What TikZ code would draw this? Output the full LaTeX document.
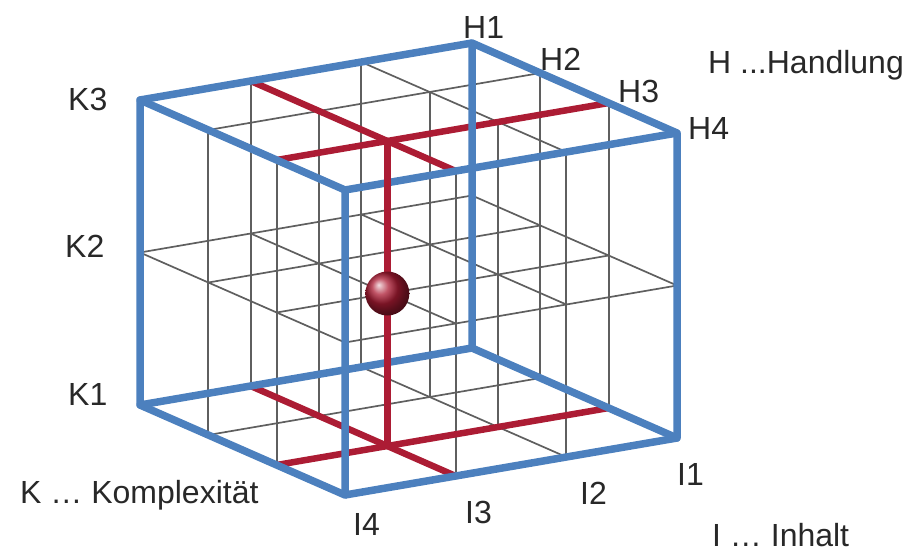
\documentclass[tikz,border=0pt]{standalone}
\usepackage{fontspec}
\setmainfont{Liberation Sans}
\definecolor{edgeblue}{RGB}{76,128,190}
\definecolor{axisred}{RGB}{172,28,52}
\definecolor{gridgray}{RGB}{95,95,95}
\definecolor{labelgray}{RGB}{40,40,40}
\begin{document}
\begin{tikzpicture}[x=1pt,y=-1pt,
  gridline/.style={draw=gridgray,line width=1.7pt},
  redline/.style={draw=axisred,line width=6.5pt,line cap=round},
  edgeline/.style={draw=edgeblue,line width=7.5pt,line join=round,line cap=round},
  lbl/.style={anchor=base west,inner sep=0pt,text=labelgray,font=\fontsize{32}{38}\selectfont}]
\useasboundingbox (0,0) rectangle (920,555);
% lattice points p<i><j><k>: i width (0..3), j depth (0..3), k height (0..2)
\foreach \i in {0,...,3}{
  \foreach \j in {0,...,3}{
    \foreach \k in {0,1,2}{
      \coordinate (p\i\j\k) at ({140+\i*332/3+\j*205/3},{405-\i*57/3+\j*90/3-\k*152.5});
    }}}
% gray grid
\foreach \i in {0,...,3}{
  \foreach \j in {0,...,3}{
    \draw[gridline] (p\i\j0) -- (p\i\j2);
  }}
\foreach \j in {0,...,3}{
  \foreach \k in {0,1,2}{
    \draw[gridline] (p0\j\k) -- (p3\j\k);
  }}
\foreach \i in {0,...,3}{
  \foreach \k in {0,1,2}{
    \draw[gridline] (p\i0\k) -- (p\i3\k);
  }}
% red horizontal lines
\draw[redline] (p102) -- (p132);
\draw[redline] (p022) -- (p322);
\draw[redline] (p100) -- (p130);
\draw[redline] (p020) -- (p320);
% blue cube edges
\draw[edgeline] (p000) -- (p300) -- (p302) -- (p002) -- cycle;
\draw[edgeline] (p030) -- (p330) -- (p332) -- (p032) -- cycle;
\draw[edgeline] (p000) -- (p030);
\draw[edgeline] (p300) -- (p330);
\draw[edgeline] (p302) -- (p332);
\draw[edgeline] (p002) -- (p032);
% red vertical and sphere
\draw[redline] (p120) -- (p122);
\node[circle,minimum size=44pt,inner sep=0pt,shading=ball,ball color=axisred] (ball) at (p121) {};
% labels
\node[lbl] (k3) at (68,110) {K3};
\node[lbl] (k2) at (65,257) {K2};
\node[lbl] (k1) at (68,405) {K1};
\node[lbl] (kname) at (20,503) {K … Komplexität};
\node[lbl] (h1) at (463,38) {H1};
\node[lbl] (h2) at (540,70) {H2};
\node[lbl] (h3) at (618,102) {H3};
\node[lbl] (h4) at (688,139) {H4};
\node[lbl] (hname) at (708,73) {H ...Handlung};
\node[lbl] (i4) at (353,535) {I4};
\node[lbl] (i3) at (465,523) {I3};
\node[lbl] (i2) at (580,504) {I2};
\node[lbl] (i1) at (677,485) {I1};
\node[lbl] (iname) at (712,546) {I … Inhalt};
\end{tikzpicture}
\end{document}
